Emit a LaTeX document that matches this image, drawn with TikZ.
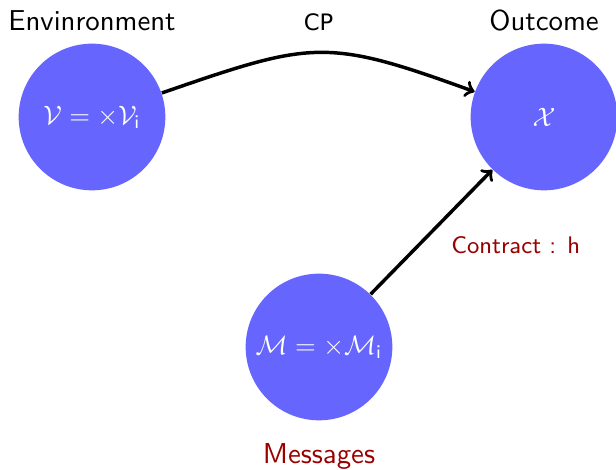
\documentclass[tikz,border=0pt]{standalone}
\usepackage{amsmath,amsfonts,amssymb}
\usepackage{fontspec}
\newfontfamily\cpfont{DejaVu Sans}
\renewcommand{\familydefault}{\sfdefault}
\usepackage{tikz}
\usetikzlibrary{positioning}
\usepackage{xcolor}

\begin{document}
\begin{tikzpicture}[x=0.375pt, y=-0.375pt,
    space/.style={draw=none, circle, fill=blue!60, text=white, minimum size=55pt, inner sep=0pt,
        font=\fontsize{10.3}{12}\selectfont},
    title/.style={font=\fontsize{10.8}{13}\selectfont},
    note/.style={text=red!60!black},
    map/.style={line width=1.3pt, ->}]
    \useasboundingbox (0,0) rectangle (616,470);

    % sets
    \node[space] (env) at (92,117) {$\mathcal{V} = \times\mathcal{V}_{\mathsf{i}}$};
    \node[space] (out) at (544,117) {$\mathcal{X}$};
    \node[space] (msg) at (319,347) {$\mathcal{M} = \times\mathcal{M}_{\mathsf{i}}$};

    \node[title, above=1pt of env] (envtext) {Envinronment};
    \node[title, above=1pt of out] (outtext) {Outcome};
    \node[title, note, below=5pt of msg] (msgtext) {Messages};

    % maps
    \draw[map] (env) to[out=19, in=160, looseness=1.3]
        node[above=4pt, font=\cpfont\fontsize{8.5}{10}\selectfont] (cp) {CP} (out);
    \draw[map] (msg) -- node[note, pos=0.56, below right=1pt, font=\fontsize{9}{11}\selectfont] (contract) {Contract : $\mathsf{h}$} (out);
\end{tikzpicture}
\end{document}
